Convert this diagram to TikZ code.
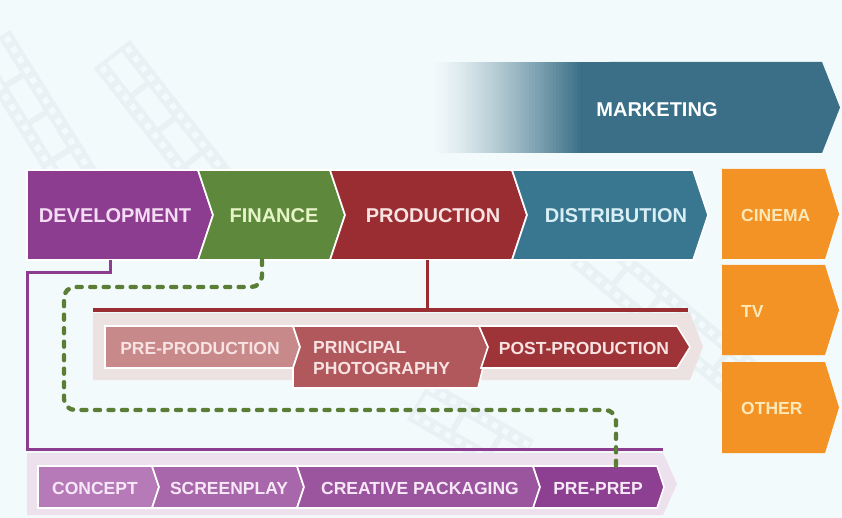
\documentclass[tikz,border=0pt]{standalone}
\usepackage{fontspec}
\setmainfont{Liberation Sans}
\usetikzlibrary{calc}
\definecolor{bg}{HTML}{F3FAFB}
\definecolor{film}{HTML}{E8F1F3}
\definecolor{mktc}{HTML}{3A6F87}
\definecolor{devc}{HTML}{8C3D8F}
\definecolor{finc}{HTML}{5E893C}
\definecolor{prodc}{HTML}{9A2D31}
\definecolor{distc}{HTML}{397690}
\definecolor{orng}{HTML}{F39325}
\definecolor{devt}{HTML}{F4DDF4}
\definecolor{fint}{HTML}{E6F4C8}
\definecolor{prodt}{HTML}{F8E2E2}
\definecolor{distt}{HTML}{D9EFF6}
\definecolor{orngt}{HTML}{FDE8B8}
\definecolor{pband}{HTML}{EDE2E2}
\definecolor{preC}{HTML}{C8898B}
\definecolor{ppC}{HTML}{B0585B}
\definecolor{postC}{HTML}{9E3437}
\definecolor{dband}{HTML}{EDE1EE}
\definecolor{conC}{HTML}{B67AB8}
\definecolor{scrC}{HTML}{A867AA}
\definecolor{creC}{HTML}{9B559E}
\definecolor{prepC}{HTML}{8D3F91}
\definecolor{subt}{HTML}{F6E8F6}
\definecolor{dashc}{HTML}{5A7E36}
\tikzset{
  lbl/.style={font=\bfseries\fontsize{20}{22}\selectfont, inner sep=0pt},
  subtxt/.style={font=\bfseries\fontsize{17.5}{20}\selectfont, inner sep=0pt},
  seg/.style={draw=white, line width=1.6pt, line join=miter},
  conn/.style={line width=3pt},
  dashg/.style={draw=dashc, line width=4.4pt, line cap=round, dash pattern=on 5pt off 8.5pt, rounded corners=11pt},
}
\newcommand\filmstrip[4]{%
  \begin{scope}[shift={(#1,#2)}, rotate=#3]
    \fill[film] (0,0) rectangle (#4,46);
    \foreach \i in {4,16,...,#4}{
      \fill[bg] (\i,4) rectangle ++(6,6);
      \fill[bg] (\i,36) rectangle ++(6,6);
    }
    \foreach \j in {4,48,...,#4}{
      \fill[bg] (\j,14) rectangle ++(38,18);
    }
  \end{scope}}
\begin{document}
\begin{tikzpicture}[x=1pt,y=-1pt]
\useasboundingbox (0,0) rectangle (842,518);
\fill[bg] (0,0) rectangle (842,518);
% faint film strip watermark
\filmstrip{10}{30}{-58}{170}
\filmstrip{130}{40}{-52}{190}
\filmstrip{600}{230}{-40}{220}
\filmstrip{430}{380}{-30}{120}

% marketing (fading in from the left)
\foreach \k in {0,...,59}{
  \pgfmathsetmacro\pc{min(100,(\k/50)^1.3*100)}
  \fill[mktc!\pc!bg] ({430+3*\k},62) rectangle ({433.6+3*\k},153);
}
\fill[mktc] (609,62) -- (822,62) -- (840,107.5) -- (822,153) -- (609,153) -- cycle;
\node[lbl, text=white] (mkt) at (657,110) {MARKETING};

% main row
\fill[devc, seg] (27,170) -- (198,170) -- (213,215) -- (198,260) -- (27,260) -- cycle;
\fill[finc, seg] (198,170) -- (330,170) -- (345,215) -- (330,260) -- (198,260) -- (213,215) -- cycle;
\fill[prodc, seg] (330,170) -- (512,170) -- (527,215) -- (512,260) -- (330,260) -- (345,215) -- cycle;
\fill[distc, seg] (512,170) -- (693,170) -- (708,215) -- (693,260) -- (512,260) -- (527,215) -- cycle;
\node[lbl, text=devt] (dev) at (115,216) {DEVELOPMENT};
\node[lbl, text=fint] (fin) at (274,216) {FINANCE};
\node[lbl, text=prodt] (prod) at (433,216) {PRODUCTION};
\node[lbl, text=distt] (dist) at (616,216) {DISTRIBUTION};

% outlets
\fill[orng] (722,169) -- (825,169) -- (839,214) -- (825,259) -- (722,259) -- cycle;
\fill[orng] (722,265) -- (825,265) -- (839,310) -- (825,355) -- (722,355) -- cycle;
\fill[orng] (722,362) -- (825,362) -- (839,407.5) -- (825,453) -- (722,453) -- cycle;
\node[subtxt, text=orngt, anchor=west] (cin) at (741,215) {CINEMA};
\node[subtxt, text=orngt, anchor=west] (tv) at (741,311) {TV};
\node[subtxt, text=orngt, anchor=west] (oth) at (741,408) {OTHER};

% connector coordinates
\coordinate (devB) at (110,260);
\coordinate (finB) at (262,260);
\coordinate (prodB) at (427,260);
\coordinate (prodJ) at (427,310);
\coordinate (prodL) at (93,310);
\coordinate (prodR) at (688,310);
\coordinate (devL) at (27,449);
\coordinate (devR) at (663,449);
\coordinate (prepT) at (616,466);

% production sub-process
\fill[pband] (93,313) -- (690,313) -- (703,346.5) -- (690,380) -- (93,380) -- cycle;
\draw[prodc, conn] (prodB) -- (prodJ);
\draw[prodc, line width=3.2pt] (prodL) -- (prodR);
\fill[preC, seg] (105,326) -- (293,326) -- (300,347) -- (293,368) -- (105,368) -- cycle;
\fill[ppC, seg] (293,326) -- (479,326) -- (488,347) -- (478,388) -- (293,388) -- (293,368) -- (300,347) -- cycle;
\fill[postC, seg] (479,326) -- (677,326) -- (690,347) -- (677,368) -- (481,368) -- (488,347) -- cycle;
\node[subtxt, text=prodt] (pre) at (200,348) {PRE-PRODUCTION};
\node[subtxt, text=prodt, anchor=west, align=left, font=\bfseries\fontsize{17.5}{21}\selectfont] (pp) at (313,358) {PRINCIPAL\\PHOTOGRAPHY};
\node[subtxt, text=prodt] (post) at (584,348) {POST-PRODUCTION};

% development sub-process
\fill[dband] (27,453) -- (663,453) -- (677,484) -- (663,515) -- (27,515) -- cycle;
\draw[devc, conn, line join=miter] (devB) -- (110,273) -- (27,273) -- (devL) -- (devR);
\fill[conC, seg] (38,466) -- (152,466) -- (159,487) -- (152,508) -- (38,508) -- cycle;
\fill[scrC, seg] (152,466) -- (297,466) -- (304,487) -- (297,508) -- (152,508) -- (159,487) -- cycle;
\fill[creC, seg] (297,466) -- (533,466) -- (540,487) -- (533,508) -- (297,508) -- (304,487) -- cycle;
\fill[prepC, seg] (533,466) -- (657,466) -- (664,487) -- (657,508) -- (533,508) -- (540,487) -- cycle;
\node[subtxt, text=subt] (con) at (95,488) {CONCEPT};
\node[subtxt, text=subt] (scr) at (229,488) {SCREENPLAY};
\node[subtxt, text=subt] (cre) at (420,488) {CREATIVE PACKAGING};
\node[subtxt, text=subt] (prep) at (598,488) {PRE-PREP};

% finance dashed link
\draw[dashg] (finB) -- (262,287) -- (64,287) -- (64,410) -- (616,410) -- (prepT);
\end{tikzpicture}
\end{document}
